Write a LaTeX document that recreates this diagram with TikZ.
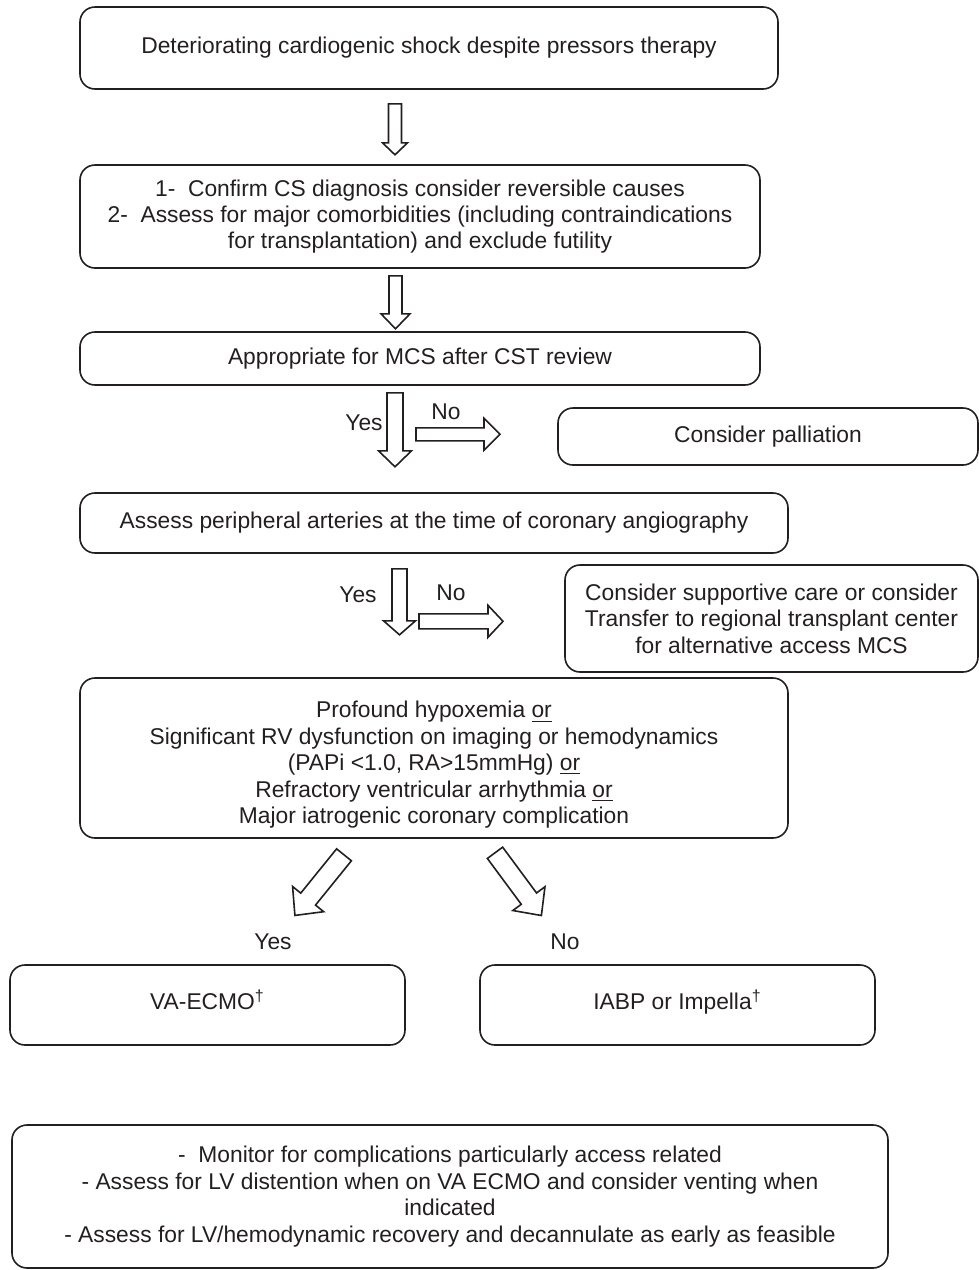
\documentclass[tikz,border=0pt]{standalone}
\usepackage{fontspec}
\setmainfont{Liberation Sans}
\usetikzlibrary{calc}
\definecolor{inkgray}{RGB}{35,31,32}

\newcommand{\hollowarrow}[6]{%
  \draw[blockarrow, shift={#1}, rotate=#2] (0,-#4) -- ({#3-#6},-#4) -- ({#3-#6},-#5) -- (#3,0)
    -- ({#3-#6},#5) -- ({#3-#6},#4) -- (0,#4) -- cycle;}

\begin{document}
\begin{tikzpicture}[x=0.5pt,y=-0.5pt,
    box/.style={draw=inkgray, text=inkgray, line width=0.8pt, rounded corners=7.5pt, align=center,
      inner sep=0pt, font=\fontsize{11.4}{13.2}\selectfont},
    blockarrow/.style={draw=inkgray, line width=0.8pt, line join=miter},
    lbl/.style={inner sep=0pt, text=inkgray, font=\fontsize{11.4}{13.2}\selectfont}]
  \useasboundingbox (0,0) rectangle (979,1270);

  \node[box, minimum width=349pt, minimum height=41pt] (start) at (429,48)
    {Deteriorating cardiogenic shock despite pressors therapy};
  \node[box, minimum width=340pt, minimum height=51.5pt] (confirm) at (420,216.5)
    {1-\ \ Confirm CS diagnosis consider reversible causes\\
     2-\ \ Assess for major comorbidities (including contraindications\\
     for transplantation) and exclude futility};
  \node[box, minimum width=340pt, minimum height=26.5pt] (mcs) at (420,358.5)
    {Appropriate for MCS after CST review};
  \node[box, minimum width=210pt, minimum height=28.5pt] (palliation) at (768,436.5)
    {Consider palliation};
  \node[box, minimum width=354pt, minimum height=30pt] (periph) at (434,523)
    {Assess peripheral arteries at the time of coronary angiography};
  \node[box, minimum width=206.5pt, minimum height=53.5pt] (transfer) at (771.5,618.5)
    {Consider supportive care or consider\\
     Transfer to regional transplant center\\
     for alternative access MCS};
  \node[box, minimum width=354pt, minimum height=80pt, text height=68pt, text depth=2.5pt]
    (criteria) at (434,758)
    {Profound hypoxemia \underline{or}\\
     Significant RV dysfunction on imaging or hemodynamics\\
     (PAPi <1.0, RA>15mmHg) \underline{or}\\
     Refractory ventricular arrhythmia \underline{or}\\
     Major iatrogenic coronary complication};
  \node[box, minimum width=197.5pt, minimum height=40pt, text height=8pt, text depth=4pt]
    (ecmo) at (207.5,1005) {VA-ECMO\textsuperscript{†}};
  \node[box, minimum width=197.5pt, minimum height=40pt, text height=8pt, text depth=4pt]
    (iabp) at (677.5,1005) {IABP or Impella\textsuperscript{†}};
  \node[box, minimum width=438pt, minimum height=71.5pt] (monitor) at (450,1196.5)
    {-\ \ Monitor for complications particularly access related\\
     - Assess for LV distention when on VA ECMO and consider venting when\\
     indicated\\
     - Assess for LV/hemodynamic recovery and decannulate as early as feasible};

  % block arrows
  \hollowarrow{($(start.south)+(-34,14)$)}{-90}{51}{6.5}{12.5}{12}
  \hollowarrow{($(confirm.south)+(-24.5,7)$)}{-90}{53}{6.5}{14.5}{15}
  \hollowarrow{($(mcs.south)+(-25,7)$)}{-90}{74}{8}{16.5}{16}
  \hollowarrow{($(mcs.south)+(-4,48.5)$)}{0}{84}{6.5}{16}{16}
  \hollowarrow{($(periph.south)+(-34.5,15)$)}{-90}{66}{7.5}{16}{14}
  \hollowarrow{($(periph.south)+(-15,67.5)$)}{0}{84}{7.5}{16}{15}
  \hollowarrow{($(criteria.south)+(-90,16)$)}{-129}{78}{9.5}{20}{21}
  \hollowarrow{($(criteria.south)+(61,14)$)}{-53.5}{78}{9.5}{20}{21}

  \node[lbl] (yes1) at (364,423) {Yes};
  \node[lbl] (no1) at (446,412) {No};
  \node[lbl] (yes2) at (358,595) {Yes};
  \node[lbl] (no2) at (451,593) {No};
  \node[lbl] (yes3) at (273,942) {Yes};
  \node[lbl] (no3) at (565,942) {No};
\end{tikzpicture}
\end{document}
